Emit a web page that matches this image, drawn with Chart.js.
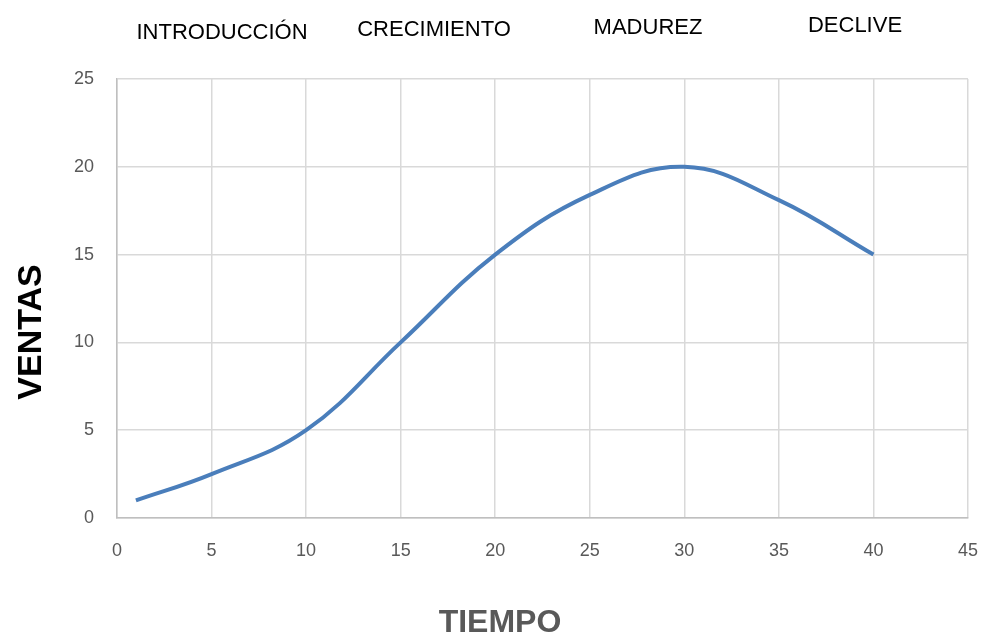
<!DOCTYPE html>
<html lang="es">
<head>
<meta charset="utf-8">
<title>Ciclo de vida del producto</title>
<script src="https://cdn.jsdelivr.net/npm/chart.js@4/dist/chart.umd.min.js"></script>
<style>
  html, body { margin: 0; padding: 0; background: #ffffff; }
  #wrap { width: 983px; height: 635px; position: relative; }
</style>
</head>
<body>
<div id="wrap"><canvas id="chart" width="983" height="635"></canvas></div>
<script>
// Product life cycle: sales over time
const tiempo = [1, 5, 10, 15, 20, 25, 30, 35, 40];
const ventas = [1, 2.5, 5, 10, 15, 18.4, 20, 18.1, 15];

const etapas = ['INTRODUCCIÓN', 'CRECIMIENTO', 'MADUREZ', 'DECLIVE'];
const tituloX = 'TIEMPO';
const tituloY = 'VENTAS';

// placement of the stage captions above the plot (centre x, baseline y)
const etapaPos = [[222, 39], [434, 36], [648, 34], [855, 32]];

const FONT = '"Liberation Sans", Arial, sans-serif';

const captions = {
  id: 'captions',
  afterDraw(chart) {
    const ctx = chart.ctx;
    ctx.save();
    ctx.fillStyle = '#000000';
    ctx.font = '22px ' + FONT;
    ctx.textAlign = 'center';
    ctx.textBaseline = 'alphabetic';
    etapas.forEach((t, i) => ctx.fillText(t, etapaPos[i][0], etapaPos[i][1]));

    // horizontal axis title
    ctx.fillStyle = '#595959';
    ctx.font = 'bold 32px ' + FONT;
    ctx.fillText(tituloX, 500, 632);

    // vertical axis title
    ctx.fillStyle = '#000000';
    ctx.font = 'bold 34px ' + FONT;
    ctx.translate(41, 332);
    ctx.rotate(-Math.PI / 2);
    ctx.fillText(tituloY, 0, 0);
    ctx.restore();
  }
};

new Chart(document.getElementById('chart'), {
  type: 'scatter',
  data: {
    datasets: [{
      data: tiempo.map((x, i) => ({ x: x, y: ventas[i] })),
      showLine: true,
      borderColor: '#4a7ebb',
      borderWidth: 4,
      pointRadius: 0,
      pointHoverRadius: 0,
      tension: 0.4,
      fill: false
    }]
  },
  options: {
    responsive: false,
    animation: false,
    layout: { padding: { left: 0, right: 15, top: 79, bottom: 0 } },
    plugins: { legend: { display: false }, tooltip: { enabled: false } },
    scales: {
      x: {
        type: 'linear',
        min: 0, max: 45,
        ticks: { stepSize: 5, color: '#595959', font: { family: FONT, size: 18 }, padding: 22, maxRotation: 0 },
        grid: { color: '#d9d9d9', lineWidth: 1.5, drawTicks: false },
        border: { color: '#bfbfbf', width: 1.5 },
        afterFit(scale) {
          scale.height = 117;
          scale.paddingLeft = 0;
          scale.paddingRight = 0;
        }
      },
      y: {
        type: 'linear',
        min: 0, max: 25,
        ticks: { stepSize: 5, color: '#595959', font: { family: FONT, size: 18 }, padding: 23 },
        grid: { color: '#d9d9d9', lineWidth: 1.5, drawTicks: false },
        border: { color: '#bfbfbf', width: 1.5 },
        afterFit(scale) {
          scale.width = 117;
          scale.paddingTop = 0;
          scale.paddingBottom = 0;
        }
      }
    }
  },
  plugins: [captions]
});
</script>
</body>
</html>
